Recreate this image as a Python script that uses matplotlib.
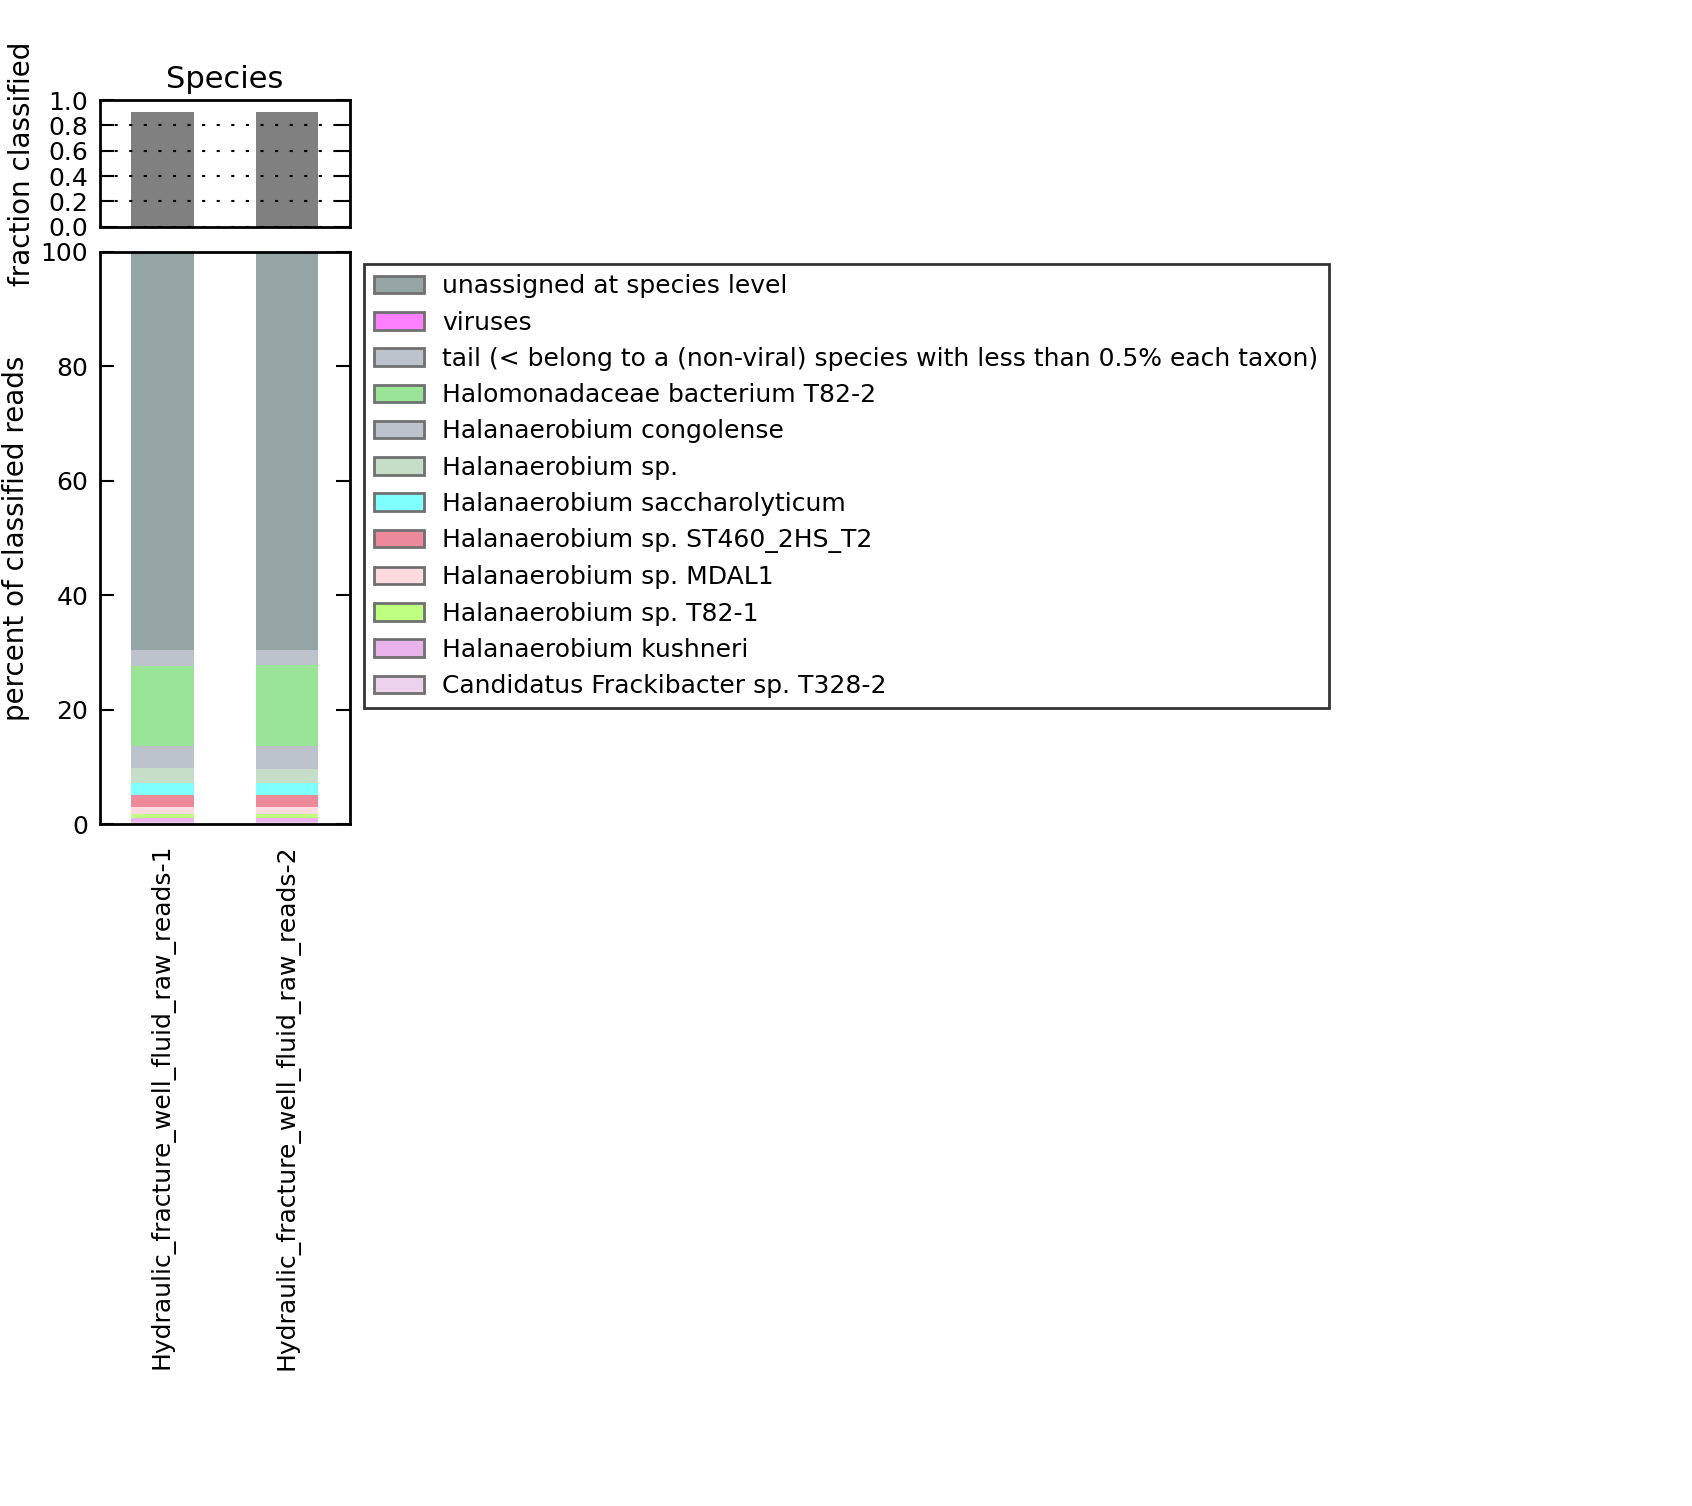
import matplotlib
matplotlib.use("Agg")
import matplotlib.pyplot as plt
from matplotlib.patches import Patch
import numpy as np

samples = ["Hydraulic_fracture_well_fluid_raw_reads-1",
           "Hydraulic_fracture_well_fluid_raw_reads-2"]
fraction_classified = [0.905, 0.905]

taxa = ["unassigned at species level",
        "viruses",
        "tail (< belong to a (non-viral) species with less than 0.5% each taxon)",
        "Halomonadaceae bacterium T82-2",
        "Halanaerobium congolense",
        "Halanaerobium sp.",
        "Halanaerobium saccharolyticum",
        "Halanaerobium sp. ST460_2HS_T2",
        "Halanaerobium sp. MDAL1",
        "Halanaerobium sp. T82-1",
        "Halanaerobium kushneri",
        "Candidatus Frackibacter sp. T328-2"]
sample1_pct = [69.5, 0.01, 2.8, 13.95, 3.85, 2.66, 2.09, 2.1, 1.22, 0.70, 0.64, 0.49]
sample2_pct = [69.5, 0.01, 2.7, 14.05, 4.05, 2.46, 2.09, 2.1, 1.22, 0.70, 0.64, 0.49]
colors = ["#95a5a6", "#ff80ff", "#bcc3cc", "#9ae497", "#bcc3cc", "#c6dec8",
          "#80ffff", "#ec8a9c", "#ffdbe0", "#bfff80", "#ebb3eb", "#ecd1ec"]

FS = 18
plt.rcParams['font.family'] = ['DejaVu Sans']
plt.rcParams['font.size'] = FS

W, H = 1692, 1506
fig = plt.figure(figsize=(W / 100, H / 100), dpi=100)
fig.patch.set_facecolor('white')

def rect(l, t, r, b):
    return [l / W, 1 - b / H, (r - l) / W, (b - t) / H]

ax_top = fig.add_axes(rect(100, 100, 349.5, 226.7))
ax = fig.add_axes(rect(100, 251.5, 349.5, 824.5))

x = np.arange(len(samples))
width = 0.5

# top panel
ax_top.bar(x, fraction_classified, width=width, color='#808080', linewidth=0, zorder=1)
ax_top.set_xlim(-0.5, len(samples) - 0.5)
ax_top.set_ylim(0, 1.0)
ax_top.set_yticks([0.0, 0.2, 0.4, 0.6, 0.8, 1.0])
ax_top.set_yticklabels(["0.0", "0.2", "0.4", "0.6", "0.8", "1.0"])
ax_top.yaxis.grid(True, linestyle=(0, (1.5, 5.5)), color='black', linewidth=1.5)
ax_top.set_axisbelow(False)
ax_top.set_xticks([])
ax_top.set_ylabel("fraction classified", fontsize=20)
ax_top.set_title("Species", fontsize=22, pad=9)

# main panel
data = np.array([sample1_pct, sample2_pct])  # samples x taxa
bottom = np.zeros(len(samples))
for i in range(len(taxa) - 1, -1, -1):
    ax.bar(x, data[:, i], width=width, bottom=bottom, color=colors[i], linewidth=0)
    bottom += data[:, i]
ax.set_xlim(-0.5, len(samples) - 0.5)
ax.set_ylim(0, 100)
ax.set_yticks([0, 20, 40, 60, 80, 100])
ax.set_xticks(x)
ax.set_xticklabels(samples, rotation=90, fontsize=FS)
ax.tick_params(axis='x', length=0, pad=14)
ax.set_ylabel("percent of classified reads", fontsize=20)

for a in (ax_top, ax):
    for s in a.spines.values():
        s.set_linewidth(2)
    a.tick_params(axis='y', which='major', direction='in', length=10, width=1.5,
                  left=True, right=True, labelsize=FS, pad=8.5)

ax_top.yaxis.set_label_coords(-0.256, 0.5)
ax.yaxis.set_label_coords(-0.279, 0.5)

handles = [Patch(facecolor=c, edgecolor='#707070', linewidth=2) for c in colors]
leg = fig.legend(handles, taxa, loc='upper left',
                 bbox_to_anchor=(363.7 / W, 1 - 264.4 / H),
                 borderaxespad=0, fontsize=FS, frameon=True, fancybox=False,
                 handlelength=2.0, handleheight=0.7, handletextpad=0.75,
                 labelspacing=0.49, borderpad=0.4)
leg.get_frame().set_edgecolor('black')
leg.get_frame().set_linewidth(2)

fig.savefig("out.png", dpi=100, facecolor='white')
